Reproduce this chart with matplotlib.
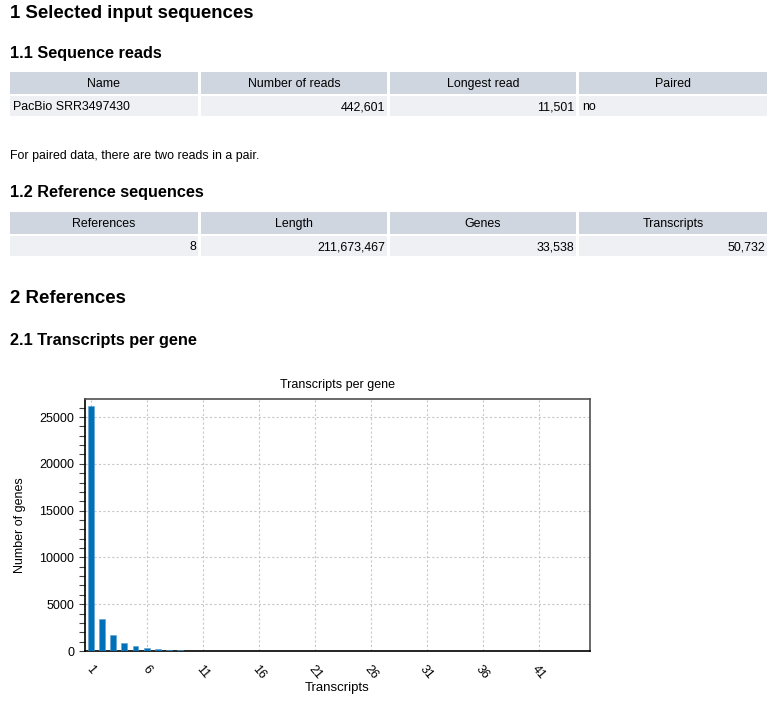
import numpy as np
import matplotlib.pyplot as plt
from matplotlib.patches import Rectangle
from matplotlib.ticker import MultipleLocator

plt.rcParams["font.family"] = ["Liberation Sans", "DejaVu Sans"]

# report data
reads_cols = ["Name", "Number of reads", "Longest read", "Paired"]
reads_row = ["PacBio SRR3497430", "442,601", "11,501", "no"]
reads_align = ["left", "right", "right", "left"]

ref_cols = ["References", "Length", "Genes", "Transcripts"]
ref_row = ["8", "211,673,467", "33,538", "50,732"]
ref_align = ["right", "right", "right", "right"]

# transcripts per gene histogram
transcripts = np.arange(1, 46)
genes = [26150, 3420, 1680, 890, 535, 290, 180, 107, 100, 40,
         28, 20, 15, 12, 9, 7, 6, 5, 4, 4,
         3, 3, 2, 2, 2, 1, 1, 1, 1, 1,
         1, 0, 1, 0, 0, 1, 0, 0, 0, 0,
         0, 0, 0, 0, 1]
xtick_vals = list(range(1, 46, 5))

W, H = 779, 701
fig = plt.figure(figsize=(W / 100, H / 100), dpi=100)

doc = fig.add_axes([0, 0, 1, 1])
doc.set_xlim(0, W)
doc.set_ylim(H, 0)
doc.axis("off")

HEAD_C = "#cfd6e0"
ROW_C = "#eef0f4"
FS = 8.9
col_edges = [(10, 198), (201, 387), (390, 576), (579, 767)]


def draw_table(cols, row, align, top):
    for (x0, x1), name, val, al in zip(col_edges, cols, row, align):
        doc.add_patch(Rectangle((x0, top), x1 - x0, 21.5, color=HEAD_C, lw=0))
        doc.add_patch(Rectangle((x0, top + 23.5), x1 - x0, 20.5, color=ROW_C, lw=0))
        doc.text((x0 + x1) / 2, top + 15.3, name, ha="center", va="baseline", fontsize=FS)
        if al == "left":
            doc.text(x0 + 3, top + 38, val, ha="left", va="baseline", fontsize=FS)
        else:
            doc.text(x1 - 2, top + 38, val, ha="right", va="baseline", fontsize=FS)


doc.text(10, 18.5, "1 Selected input sequences", fontsize=13.4, fontweight="bold", va="baseline")
doc.text(10, 58.3, "1.1 Sequence reads", fontsize=11.7, fontweight="bold", va="baseline")
draw_table(reads_cols, reads_row, reads_align, 72)
doc.text(10, 158.7, "For paired data, there are two reads in a pair.", fontsize=FS, va="baseline")
doc.text(10, 197.3, "1.2 Reference sequences", fontsize=11.7, fontweight="bold", va="baseline")
draw_table(ref_cols, ref_row, ref_align, 212)
doc.text(10, 303.3, "2 References", fontsize=13.4, fontweight="bold", va="baseline")
doc.text(10, 345, "2.1 Transcripts per gene", fontsize=11.7, fontweight="bold", va="baseline")

# chart
left, right, top, bottom = 84.7, 590, 399, 651
ax = fig.add_axes([left / W, (H - bottom) / H, (right - left) / W, (bottom - top) / H])
ax.bar(transcripts, genes, width=0.52, color="#0070b8", edgecolor="#5aa0d0", linewidth=0.4, zorder=3)
ax.set_xlim(0.46, 45.58)
ax.set_ylim(0, 26930)
ax.set_xticks(xtick_vals)
ax.set_xticklabels([str(v) for v in xtick_vals], rotation=-50, ha="center", fontsize=9)
ax.tick_params(axis="x", length=0, pad=9)
ax.set_yticks(range(0, 26000, 5000))
ax.yaxis.set_minor_locator(MultipleLocator(1000))
ax.tick_params(axis="y", which="both", length=4, width=0.8, labelsize=9, color="#404040")
ax.grid(True, color="#c8c8c8", linestyle=(0, (2, 2)), linewidth=0.8, zorder=0)
for s in ["left", "bottom"]:
    ax.spines[s].set_color("black")
    ax.spines[s].set_linewidth(1.2)
for s in ["top", "right"]:
    ax.spines[s].set_color("#505050")
    ax.spines[s].set_linewidth(1.2)

doc.text((left + right) / 2, 388, "Transcripts per gene", ha="center", va="baseline", fontsize=9)
doc.text((left + right) / 2, 691, "Transcripts", ha="center", va="baseline", fontsize=9.5)
doc.text(20, (top + bottom) / 2, "Number of genes", ha="center", va="center", rotation=90, fontsize=9)

fig.savefig("out.png", dpi=100)
